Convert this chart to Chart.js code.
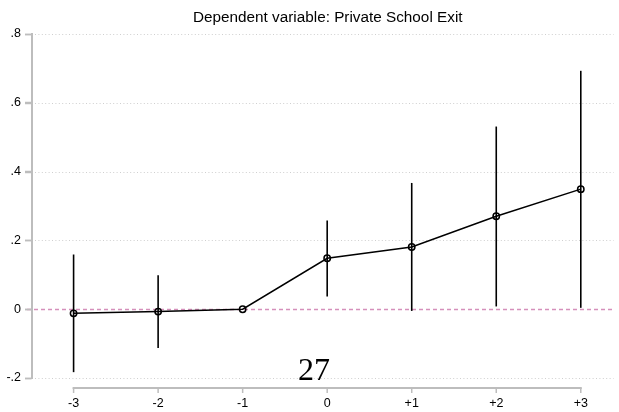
<!DOCTYPE html>
<html>
<head>
<meta charset="utf-8">
<script src="https://cdn.jsdelivr.net/npm/chart.js@4/dist/chart.umd.min.js"></script>
<style>
  html, body { margin: 0; padding: 0; background: #fff; }
  #wrap { width: 619px; height: 412px; position: relative; }
</style>
</head>
<body>
<div id="wrap"><canvas id="c" width="619" height="412"></canvas></div>
<script>
// Event-time periods relative to the event
const periods = [-3, -2, -1, 0, 1, 2, 3];
const periodLabels = ["-3", "-2", "-1", "0", "+1", "+2", "+3"];
// Point estimates (period -1 is the omitted reference period)
const estimates = [-0.012, -0.007, 0, 0.148, 0.181, 0.270, 0.349];
// 95% confidence interval bounds
const ciLow  = [-0.183, -0.113, null, 0.037, -0.005, 0.008, 0.004];
const ciHigh = [ 0.159,  0.099, null, 0.258,  0.367, 0.531, 0.693];
// Y-axis tick values and their labels
const yTickValues = [-0.2, 0, 0.2, 0.4, 0.6, 0.8];
const yTickLabels = ["-.2", "0", ".2", ".4", ".6", ".8"];

const titleText = "Dependent variable: Private School Exit";
const pageNumber = "27";

const FONT = "'Liberation Sans', Arial, Helvetica, sans-serif";

// Title centred over the plot region rather than the whole canvas
const titlePlugin = {
  id: 'plotTitle',
  afterDraw(chart) {
    const { ctx, chartArea } = chart;
    ctx.save();
    ctx.fillStyle = '#000';
    ctx.font = "15.3px " + FONT;
    ctx.textAlign = 'center';
    ctx.textBaseline = 'middle';
    ctx.fillText(titleText, (chartArea.left + chartArea.right) / 2 + 5, 18);
    ctx.restore();
  }
};

// Dotted horizontal grid and dashed reference line at zero
const gridPlugin = {
  id: 'stataGrid',
  beforeDatasetsDraw(chart) {
    const { ctx, chartArea, scales } = chart;
    const y = scales.y;
    ctx.save();
    ctx.lineWidth = 1;
    yTickValues.forEach(v => {
      if (v === 0) return;
      const py = Math.round(y.getPixelForValue(v)) + 0.5;
      ctx.strokeStyle = '#cfcfcf';
      ctx.setLineDash([1, 2.4]);
      ctx.beginPath();
      ctx.moveTo(chartArea.left + 3, py);
      ctx.lineTo(chartArea.right, py);
      ctx.stroke();
    });
    const p0 = Math.round(y.getPixelForValue(0)) + 0.5;
    ctx.strokeStyle = '#d590bb';
    ctx.lineWidth = 1.3;
    ctx.setLineDash([4, 3]);
    ctx.beginPath();
    ctx.moveTo(chartArea.left - 5, p0);
    ctx.lineTo(chartArea.right, p0);
    ctx.stroke();
    ctx.restore();
  }
};

// Confidence-interval spikes, the detached x axis and the page number
const overlayPlugin = {
  id: 'overlay',
  afterDatasetsDraw(chart) {
    const { ctx, scales } = chart;
    const x = scales.x, y = scales.y;
    ctx.save();
    ctx.strokeStyle = '#000';
    ctx.lineWidth = 1.6;
    periods.forEach((p, i) => {
      if (ciLow[i] == null || ciHigh[i] == null) return;
      const px = x.getPixelForValue(p);
      ctx.beginPath();
      ctx.moveTo(px, y.getPixelForValue(ciLow[i]));
      ctx.lineTo(px, y.getPixelForValue(ciHigh[i]));
      ctx.stroke();
    });

    // y-axis tick marks pointing left of the axis line
    ctx.strokeStyle = '#bdbdbd';
    ctx.lineWidth = 1.5;
    const axX = chart.chartArea.left;
    yTickValues.forEach(v => {
      const py = Math.round(y.getPixelForValue(v)) + 0.5;
      ctx.beginPath();
      ctx.moveTo(axX - 7, py);
      ctx.lineTo(axX, py);
      ctx.stroke();
    });

    // x axis drawn below the plot region, spanning the first to last period
    const axY = chart.chartArea.bottom + 10;
    const x0 = x.getPixelForValue(periods[0]);
    const x1 = x.getPixelForValue(periods[periods.length - 1]);
    ctx.lineWidth = 2;
    ctx.beginPath();
    ctx.moveTo(x0 - 1, axY);
    ctx.lineTo(x1 + 1, axY);
    ctx.stroke();
    ctx.lineWidth = 1.5;
    periods.forEach(p => {
      const px = x.getPixelForValue(p);
      ctx.beginPath();
      ctx.moveTo(px, axY);
      ctx.lineTo(px, axY + 5);
      ctx.stroke();
    });

    ctx.fillStyle = '#000';
    ctx.font = "32px 'Liberation Serif', 'Times New Roman', serif";
    ctx.textAlign = 'center';
    ctx.textBaseline = 'alphabetic';
    ctx.fillText(pageNumber, 314, 380);
    ctx.restore();
  }
};

new Chart(document.getElementById('c'), {
  type: 'line',
  data: {
    datasets: [{
      data: periods.map((p, i) => ({ x: p, y: estimates[i] })),
      borderColor: '#000',
      borderWidth: 1.5,
      pointRadius: 3.2,
      pointBorderWidth: 1.5,
      pointBorderColor: '#000',
      pointBackgroundColor: 'rgba(0,0,0,0)',
      pointStyle: 'circle',
      tension: 0,
      fill: false
    }]
  },
  options: {
    responsive: false,
    animation: false,
    devicePixelRatio: 1,
    layout: { padding: { left: 0, right: 0, top: 34, bottom: 0 } },
    plugins: {
      legend: { display: false },
      tooltip: { enabled: false },
      title: { display: false }
    },
    scales: {
      x: {
        type: 'linear',
        min: -3.492,
        max: 3.387,
        afterBuildTicks(scale) {
          scale.ticks = periods.map(v => ({ value: v }));
        },
        afterFit(scale) { scale.height = 34; },
        grid: { display: false, drawTicks: false },
        border: { display: false },
        ticks: {
          padding: 18,
          color: '#000',
          font: { family: FONT, size: 12.5 },
          maxRotation: 0,
          autoSkip: false,
          callback(v) {
            const i = periods.indexOf(v);
            return i >= 0 ? periodLabels[i] : '';
          }
        }
      },
      y: {
        type: 'linear',
        min: -0.2,
        max: 0.8,
        afterBuildTicks(scale) {
          scale.ticks = yTickValues.map(v => ({ value: v }));
        },
        afterFit(scale) { scale.width = 32; },
        grid: {
          drawOnChartArea: false,
          drawTicks: true,
          tickLength: 7,
          tickWidth: 1.5,
          tickColor: '#bdbdbd'
        },
        border: { display: true, color: '#bdbdbd', width: 2 },
        ticks: {
          padding: 4,
          color: '#000',
          font: { family: FONT, size: 12.5 },
          autoSkip: false,
          callback(v) {
            const i = yTickValues.findIndex(t => Math.abs(t - v) < 1e-9);
            return i >= 0 ? yTickLabels[i] : '';
          }
        }
      }
    }
  },
  plugins: [gridPlugin, overlayPlugin, titlePlugin]
});
</script>
</body>
</html>
